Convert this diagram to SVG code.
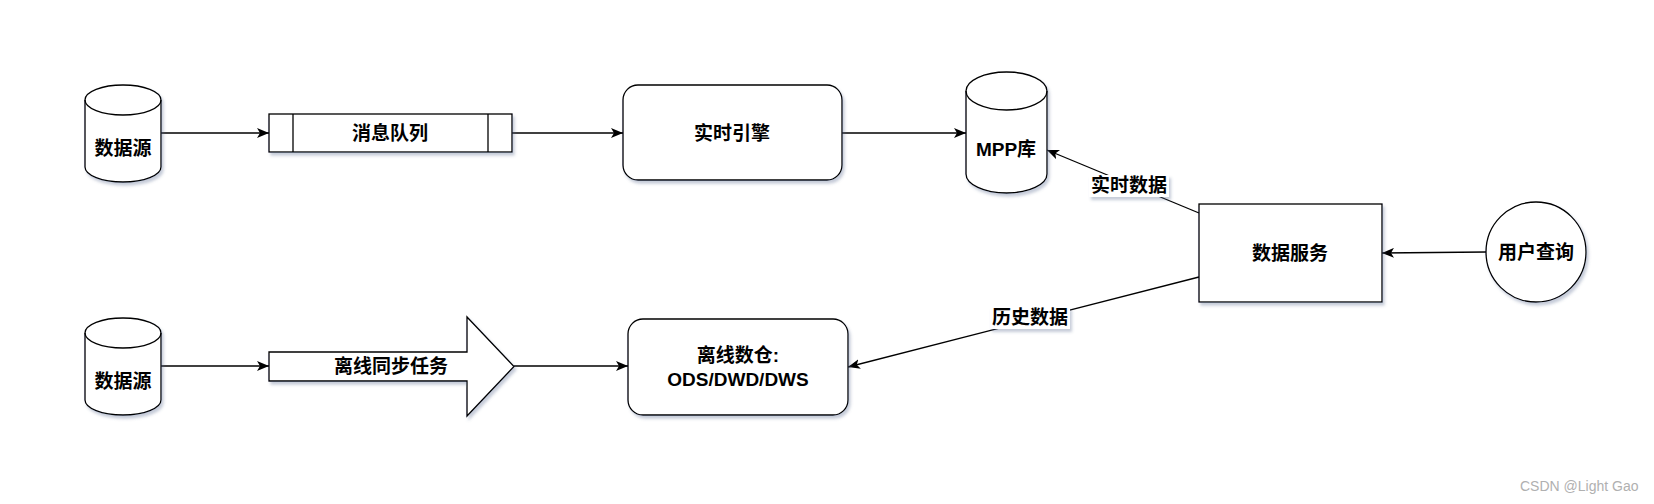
<svg xmlns="http://www.w3.org/2000/svg" width="1654" height="504" viewBox="0 0 1654 504">
<style>
.shape{fill:#fff;stroke:#000;stroke-width:1.3;filter:url(#sh)}
.line{fill:none;stroke:#000;stroke-width:1.3}
.t{font-family:"Liberation Sans","Noto Sans CJK SC",sans-serif;font-weight:bold;font-size:19px;fill:#000;text-anchor:middle;dominant-baseline:central}
.wm{font-family:"Liberation Sans","Noto Sans",sans-serif;font-size:14px;fill:#b0b0b0}
</style>
<defs>
<filter id="sh" x="-20%" y="-20%" width="140%" height="150%">
<feDropShadow dx="2" dy="3" stdDeviation="1.6" flood-color="#5a6a90" flood-opacity="0.35"/>
</filter>
<marker id="arr" markerUnits="userSpaceOnUse" viewBox="0 0 12 10" refX="12" refY="5" markerWidth="12" markerHeight="10" orient="auto">
<path d="M0,0 L12,5 L0,10 L3,5 Z" fill="#000"/>
</marker>
</defs>
<rect width="1654" height="504" fill="#fff"/>

<g id="connectors">
<line class="line" x1="161" y1="133" x2="269" y2="133" marker-end="url(#arr)"/>
<line class="line" x1="512" y1="133" x2="623" y2="133" marker-end="url(#arr)"/>
<line class="line" x1="842" y1="133" x2="966" y2="133" marker-end="url(#arr)"/>
<line class="line" x1="1486" y1="252" x2="1382" y2="253" marker-end="url(#arr)"/>
<line class="line" x1="1199" y1="213" x2="1047" y2="150" marker-end="url(#arr)"/>
<line class="line" x1="1199" y1="277" x2="848" y2="367" marker-end="url(#arr)"/>
<line class="line" x1="161" y1="366" x2="269" y2="366" marker-end="url(#arr)"/>
<line class="line" x1="514" y1="366" x2="628" y2="366" marker-end="url(#arr)"/>
<g id="label-realtime">
<rect x="1089" y="175" width="80" height="22" fill="#fff" filter="url(#sh)"/>
<text class="t" x="1129" y="185">实时数据</text>
</g>
<g id="label-history">
<rect x="990" y="307" width="80" height="22" fill="#fff" filter="url(#sh)"/>
<text class="t" x="1030" y="317">历史数据</text>
</g>
</g>

<g id="source1">
<path class="shape" d="M85,100 A38,15 0 0 1 161,100 L161,167 A38,15 0 0 1 85,167 Z"/>
<path class="line" d="M85,100 A38,15 0 0 0 161,100"/>
<text class="t" x="123" y="148">数据源</text>
</g>

<g id="queue">
<rect class="shape" x="269" y="114" width="243" height="38"/>
<line class="line" x1="293" y1="114" x2="293" y2="152"/>
<line class="line" x1="488" y1="114" x2="488" y2="152"/>
<text class="t" x="390" y="133">消息队列</text>
</g>

<g id="engine">
<rect class="shape" x="623" y="85" width="219" height="95" rx="15" ry="15"/>
<text class="t" x="732" y="133">实时引擎</text>
</g>

<g id="mpp">
<path class="shape" d="M966,91 A40.5,19 0 0 1 1047,91 L1047,174 A40.5,19 0 0 1 966,174 Z"/>
<path class="line" d="M966,91 A40.5,19 0 0 0 1047,91"/>
<text class="t" x="1006" y="149">MPP库</text>
</g>

<g id="service">
<rect class="shape" x="1199" y="204" width="183" height="98"/>
<text class="t" x="1290" y="253">数据服务</text>
</g>

<g id="user">
<ellipse class="shape" cx="1536" cy="252" rx="50" ry="50"/>
<text class="t" x="1536" y="252">用户查询</text>
</g>

<g id="source2">
<path class="shape" d="M85,333 A38,15 0 0 1 161,333 L161,400 A38,15 0 0 1 85,400 Z"/>
<path class="line" d="M85,333 A38,15 0 0 0 161,333"/>
<text class="t" x="123" y="381">数据源</text>
</g>

<g id="sync">
<polygon class="shape" points="269,352 467,352 467,317 514,366.5 467,416 467,381 269,381"/>
<text class="t" x="391" y="366">离线同步任务</text>
</g>

<g id="warehouse">
<rect class="shape" x="628" y="319" width="220" height="96" rx="15" ry="15"/>
<text class="t" x="738" y="355">离线数仓:</text>
<text class="t" x="738" y="379">ODS/DWD/DWS</text>
</g>

<text class="wm" x="1520" y="491">CSDN @Light Gao</text>
</svg>
